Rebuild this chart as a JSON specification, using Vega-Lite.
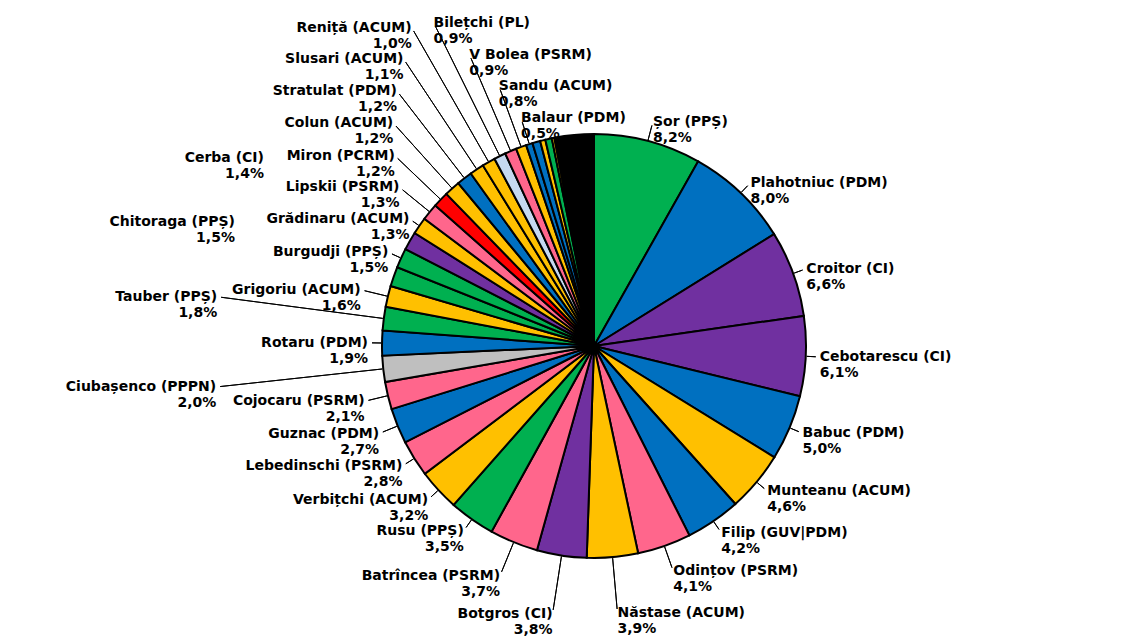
{
  "$schema": "https://vega.github.io/schema/vega-lite/v6.json",
  "width": 1100,
  "height": 582,
  "autosize": {"type": "none"},
  "padding": {"left": 44, "top": 55, "right": 0, "bottom": 0},
  "background": "white",
  "config": {"view": {"stroke": null}},
  "data": {
    "values": [
      {"k": 1, "party": "PPȘ", "value": 8.2, "label": "Șor (PPȘ)\n8,2%"},
      {"k": 2, "party": "PDM", "value": 8.0, "label": "Plahotniuc (PDM)\n8,0%"},
      {"k": 3, "party": "CI", "value": 6.6, "label": "Croitor (CI)\n6,6%"},
      {"k": 4, "party": "CI", "value": 6.1, "label": "Cebotarescu (CI)\n6,1%"},
      {"k": 5, "party": "PDM", "value": 5.0, "label": "Babuc (PDM)\n5,0%"},
      {"k": 6, "party": "ACUM", "value": 4.6, "label": "Munteanu (ACUM)\n4,6%"},
      {"k": 7, "party": "GUV|PDM", "value": 4.2, "label": "Filip (GUV|PDM)\n4,2%"},
      {"k": 8, "party": "PSRM", "value": 4.1, "label": "Odințov (PSRM)\n4,1%"},
      {"k": 9, "party": "ACUM", "value": 3.9, "label": "Năstase (ACUM)\n3,9%"},
      {"k": 10, "party": "CI", "value": 3.8, "label": "Botgros (CI)\n3,8%"},
      {"k": 11, "party": "PSRM", "value": 3.7, "label": "Batrîncea (PSRM)\n3,7%"},
      {"k": 12, "party": "PPȘ", "value": 3.5, "label": "Rusu (PPȘ)\n3,5%"},
      {"k": 13, "party": "ACUM", "value": 3.2, "label": "Verbițchi (ACUM)\n3,2%"},
      {"k": 14, "party": "PSRM", "value": 2.8, "label": "Lebedinschi (PSRM)\n2,8%"},
      {"k": 15, "party": "PDM", "value": 2.7, "label": "Guznac (PDM)\n2,7%"},
      {"k": 16, "party": "PSRM", "value": 2.1, "label": "Cojocaru (PSRM)\n2,1%"},
      {"k": 17, "party": "PPPN", "value": 2.0, "label": "Ciubașenco (PPPN)\n2,0%"},
      {"k": 18, "party": "PDM", "value": 1.9, "label": "Rotaru (PDM)\n1,9%"},
      {"k": 19, "party": "PPȘ", "value": 1.8, "label": "Tauber (PPȘ)\n1,8%"},
      {"k": 20, "party": "ACUM", "value": 1.6, "label": "Grigoriu (ACUM)\n1,6%"},
      {"k": 21, "party": "PPȘ", "value": 1.5, "label": "Chitoraga (PPȘ)\n1,5%"},
      {"k": 22, "party": "PPȘ", "value": 1.5, "label": "Burgudji (PPȘ)\n1,5%"},
      {"k": 23, "party": "CI", "value": 1.4, "label": "Cerba (CI)\n1,4%"},
      {"k": 24, "party": "ACUM", "value": 1.3, "label": "Grădinaru (ACUM)\n1,3%"},
      {"k": 25, "party": "PSRM", "value": 1.3, "label": "Lipskii (PSRM)\n1,3%"},
      {"k": 26, "party": "PCRM", "value": 1.2, "label": "Miron (PCRM)\n1,2%"},
      {"k": 27, "party": "ACUM", "value": 1.2, "label": "Colun (ACUM)\n1,2%"},
      {"k": 28, "party": "PDM", "value": 1.2, "label": "Stratulat (PDM)\n1,2%"},
      {"k": 29, "party": "ACUM", "value": 1.1, "label": "Slusari (ACUM)\n1,1%"},
      {"k": 30, "party": "ACUM", "value": 1.0, "label": "Reniță (ACUM)\n1,0%"},
      {"k": 31, "party": "PL", "value": 0.9, "label": "Bilețchi (PL)\n0,9%"},
      {"k": 32, "party": "PSRM", "value": 0.9, "label": "V Bolea (PSRM)\n0,9%"},
      {"k": 33, "party": "ACUM", "value": 0.8, "label": "Sandu (ACUM)\n0,8%"},
      {"k": 34, "party": "PDM", "value": 0.5, "label": "Balaur (PDM)\n0,5%"},
      {"k": 35, "party": "PDM", "value": 0.6, "label": ""},
      {"k": 36, "party": "ACUM", "value": 0.4, "label": ""},
      {"k": 37, "party": "PPȘ", "value": 0.5, "label": ""},
      {"k": 38, "party": "ACUM", "value": 0.2, "label": ""},
      {"k": 39, "party": "other", "value": 3.0, "label": ""}
    ]
  },
  "transform": [
    {"stack": "value", "groupby": [], "sort": [{"field": "k", "order": "ascending"}], "as": ["t0", "t1"]},
    {"fold": ["t0", "t1"], "as": ["edge", "cum"]},
    {"aggregate": [{"op": "mean", "field": "cum", "as": "mid"}], "groupby": ["k", "party", "label", "t0", "t1"]}
  ],
  "resolve": {"scale": {"radius": "independent"}},
  "layer": [
    {
      "mark": {"type": "arc", "outerRadius": 212, "stroke": "#000000", "strokeWidth": 2},
      "encoding": {
        "theta": {"field": "t0", "type": "quantitative", "stack": null, "scale": {"domain": [0, 100.3]}},
        "theta2": {"field": "t1"},
        "color": {
          "field": "party", "type": "nominal", "legend": null,
          "scale": {
            "domain": ["PPȘ", "PDM", "GUV|PDM", "CI", "ACUM", "PSRM", "PCRM", "PPPN", "PL", "other"],
            "range": ["#00B050", "#0070C0", "#0070C0", "#7030A0", "#FFC000", "#FF668C", "#FF0000", "#BFBFBF", "#C5D9F1", "#000000"]
          }
        },
        "order": {"field": "k", "type": "quantitative"}
      }
    },
    {
      "transform": [{"filter": "datum.k <= 9 || (datum.k >= 31 && datum.k <= 34)"}],
      "mark": {"type": "arc", "radius2": 213, "fill": "transparent", "stroke": "#000000", "strokeWidth": 1},
      "encoding": {
        "theta": {"field": "mid", "type": "quantitative", "stack": null, "scale": {"domain": [0, 100.3]}},
        "theta2": {"field": "mid"},
        "radius": {"field": "k", "type": "quantitative", "scale": {"type": "linear", "zero": false, "nice": false, "domain": [1, 2, 7, 8, 9, 31, 32, 33, 34], "range": [228, 222, 222, 235, 264, 357, 313, 273, 235]}}
      }
    },
    {
      "transform": [{"filter": "datum.k == 10 || datum.k == 11 || (datum.k >= 24 && datum.k <= 30)"}],
      "mark": {"type": "arc", "radius2": 213, "fill": "transparent", "stroke": "#000000", "strokeWidth": 1},
      "encoding": {
        "theta": {"field": "mid", "type": "quantitative", "stack": null, "scale": {"domain": [0, 100.3]}},
        "theta2": {"field": "mid"},
        "radius": {"field": "k", "type": "quantitative", "scale": {"type": "linear", "zero": false, "nice": false, "domain": [10, 11, 24, 25, 27, 30], "range": [267, 244, 220, 247, 296, 363]}}
      }
    },
    {
      "transform": [{"filter": "datum.k >= 12 && datum.k <= 22 && (datum.k <= 16 || datum.k % 2 == 0)"}],
      "mark": {"type": "arc", "radius2": 213, "fill": "transparent", "stroke": "#000000", "strokeWidth": 1},
      "encoding": {
        "theta": {"field": "mid", "type": "quantitative", "stack": null, "scale": {"domain": [0, 100.3]}},
        "theta2": {"field": "mid"},
        "radius": {"field": "k", "type": "quantitative", "scale": {"type": "linear", "zero": false, "nice": false, "domain": [12, 14, 15, 16, 18, 20, 22], "range": [222, 222, 228, 232, 222, 236, 222]}}
      }
    },
    {
      "transform": [{"filter": "datum.k == 17 || datum.k == 19"}],
      "mark": {"type": "arc", "radius": 376, "radius2": 213, "fill": "transparent", "stroke": "#000000", "strokeWidth": 1},
      "encoding": {
        "theta": {"field": "mid", "type": "quantitative", "stack": null, "scale": {"domain": [0, 100.3]}},
        "theta2": {"field": "mid"}
      }
    },
    {
      "transform": [{"filter": "datum.k <= 9 || (datum.k >= 31 && datum.k <= 34)"}],
      "mark": {"type": "text", "align": "left", "baseline": "middle", "lineBreak": "\n", "lineHeight": 16, "font": "DejaVu Sans", "fontSize": 14, "fontWeight": "bold", "color": "#000000"},
      "encoding": {
        "theta": {"field": "mid", "type": "quantitative", "stack": null, "scale": {"domain": [0, 100.3]}},
        "radius": {"field": "k", "type": "quantitative", "scale": {"type": "linear", "zero": false, "nice": false, "domain": [1, 2, 7, 8, 9, 31, 32, 33, 34], "range": [232, 226, 226, 239, 268, 361, 317, 277, 239]}},
        "text": {"field": "label"}
      }
    },
    {
      "transform": [{"filter": "datum.k == 10 || datum.k == 11 || (datum.k >= 24 && datum.k <= 30)"}],
      "mark": {"type": "text", "align": "right", "baseline": "middle", "lineBreak": "\n", "lineHeight": 16, "font": "DejaVu Sans", "fontSize": 14, "fontWeight": "bold", "color": "#000000"},
      "encoding": {
        "theta": {"field": "mid", "type": "quantitative", "stack": null, "scale": {"domain": [0, 100.3]}},
        "radius": {"field": "k", "type": "quantitative", "scale": {"type": "linear", "zero": false, "nice": false, "domain": [10, 11, 24, 25, 27, 30], "range": [271, 248, 224, 251, 300, 367]}},
        "text": {"field": "label"}
      }
    },
    {
      "transform": [{"filter": "datum.k >= 12 && datum.k <= 22 && (datum.k <= 16 || datum.k % 2 == 0)"}],
      "mark": {"type": "text", "align": "right", "baseline": "middle", "lineBreak": "\n", "lineHeight": 16, "font": "DejaVu Sans", "fontSize": 14, "fontWeight": "bold", "color": "#000000"},
      "encoding": {
        "theta": {"field": "mid", "type": "quantitative", "stack": null, "scale": {"domain": [0, 100.3]}},
        "radius": {"field": "k", "type": "quantitative", "scale": {"type": "linear", "zero": false, "nice": false, "domain": [12, 14, 15, 16, 18, 20, 22], "range": [226, 226, 232, 236, 226, 240, 226]}},
        "text": {"field": "label"}
      }
    },
    {
      "transform": [{"filter": "datum.k == 17 || datum.k == 19 || datum.k == 21 || datum.k == 23"}],
      "mark": {"type": "text", "radius": 380, "align": "right", "baseline": "middle", "lineBreak": "\n", "lineHeight": 16, "font": "DejaVu Sans", "fontSize": 14, "fontWeight": "bold", "color": "#000000"},
      "encoding": {
        "theta": {"field": "mid", "type": "quantitative", "stack": null, "scale": {"domain": [0, 100.3]}},
        "text": {"field": "label"}
      }
    }
  ]
}
